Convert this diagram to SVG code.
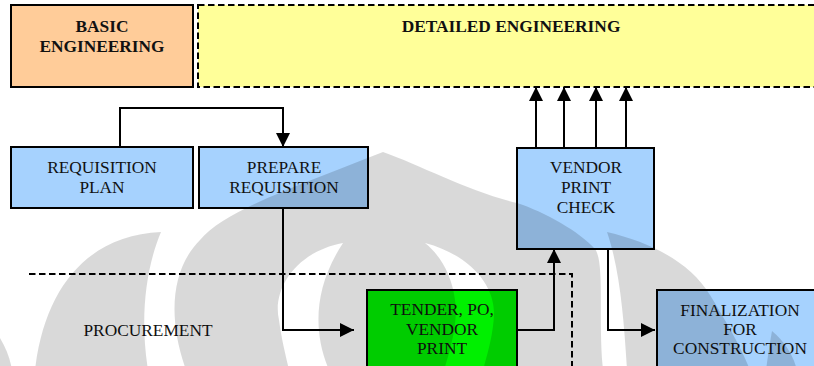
<svg xmlns="http://www.w3.org/2000/svg" width="814" height="366" viewBox="0 0 814 366">
  <style>
    .box { stroke: #000; stroke-width: 2; }
    .blue { fill: #A6D2FE; }
    text { font-family: 'Liberation Serif', 'Times New Roman', Times, 'DejaVu Serif', serif; font-size: 17.33px; fill: #111; text-anchor: middle; }
    .bold { font-weight: bold; }
    .wire { fill: none; stroke: #000; stroke-width: 2; }
    .dash { fill: none; stroke: #000; stroke-width: 2; stroke-dasharray: 6.5 3.5; }
    .mark { fill: #000; fill-opacity: 0.15; }
  </style>
  <defs>
    <marker id="arrow" markerUnits="userSpaceOnUse" markerWidth="14" markerHeight="14" refX="14" refY="7" orient="auto">
      <path d="M0,0 L14,7 L0,14 Z" fill="#000"/>
    </marker>
  </defs>

  <rect width="814" height="366" fill="#fff"/>

  <g id="basic-engineering" font-family="Liberation Serif, serif">
    <rect class="box" x="11" y="5" width="182" height="82" fill="#FFCC99"/>
    <text class="bold" x="102" y="32">BASIC</text>
    <text class="bold" x="102" y="52">ENGINEERING</text>
  </g>

  <g id="detailed-engineering">
    <rect x="198" y="5" width="630" height="82" fill="#FFFF99" stroke="#000" stroke-width="2" stroke-dasharray="6.5 3.5"/>
    <text class="bold" x="511" y="32">DETAILED ENGINEERING</text>
  </g>

  <g id="requisition-plan">
    <rect class="box blue" x="11" y="147" width="182" height="61"/>
    <text x="102" y="173">REQUISITION</text>
    <text x="102" y="193">PLAN</text>
  </g>

  <g id="prepare-requisition">
    <rect class="box blue" x="199" y="147" width="169" height="61"/>
    <text x="284" y="173">PREPARE</text>
    <text x="284" y="193">REQUISITION</text>
  </g>

  <g id="vendor-print-check">
    <rect class="box blue" x="517" y="148" width="137" height="101"/>
    <text x="586" y="173">VENDOR</text>
    <text x="586" y="193">PRINT</text>
    <text x="586" y="213">CHECK</text>
  </g>

  <g id="tender">
    <rect class="box" x="367" y="290" width="150" height="90" fill="#00F000"/>
    <text x="442" y="315">TENDER, PO,</text>
    <text x="442" y="335">VENDOR</text>
    <text x="442" y="354">PRINT</text>
  </g>

  <g id="finalization">
    <rect class="box blue" x="657" y="290" width="170" height="90"/>
    <text x="740" y="316">FINALIZATION</text>
    <text x="740" y="335">FOR</text>
    <text x="740" y="354">CONSTRUCTION</text>
  </g>

  <g id="procurement-zone">
    <path class="dash" d="M29,274 H572 V370"/>
    <text x="148" y="336">PROCUREMENT</text>
  </g>

  <g id="connectors">
    <path class="wire" d="M120,147 V108 H283 V147" marker-end="url(#arrow)"/>
    <path class="wire" d="M283,208 V330 H354" marker-end="url(#arrow)"/>
    <path class="wire" d="M517,330 H554 V249" marker-end="url(#arrow)"/>
    <path class="wire" d="M536,148 V87" marker-end="url(#arrow)"/>
    <path class="wire" d="M564,148 V87" marker-end="url(#arrow)"/>
    <path class="wire" d="M596,148 V87" marker-end="url(#arrow)"/>
    <path class="wire" d="M626,148 V87" marker-end="url(#arrow)"/>
    <path class="wire" d="M608,249 V330 H655" marker-end="url(#arrow)"/>
  </g>

  <!-- background emblem, laid over the page as a light grey tint -->
  <g id="emblem" class="mark">
    <path d="M161,232 C90,235 45,285 35,370 L148,370 C140,320 145,270 161,232 Z"/>
    <path fill-rule="evenodd" d="M383,152 C420,165 470,192 517,203 C545,212 580,232 595,249 C605,262 598,320 603,370 L186,370 C168,320 170,270 200,240 C225,210 300,185 383,152 Z
      M343,243 C295,252 272,290 279,320 C282,342 286,356 289,370 L329,370 C314,335 312,290 343,243 Z
      M425,243 C470,255 495,285 494,315 C493,335 488,352 483,370 L444,370 C452,345 458,320 455,300 C452,275 440,255 425,243 Z"/>
    <path d="M607,232 C650,242 690,262 710,295 C725,320 740,345 750,370 L627,370 C624,320 620,270 607,232 Z"/>
    <path d="M772,331 C785,342 793,355 797,370 L766,370 C768,355 770,342 772,331 Z"/>
    <path d="M0,338 C6,348 10,358 12,370 L0,370 Z"/>
  </g>
</svg>
